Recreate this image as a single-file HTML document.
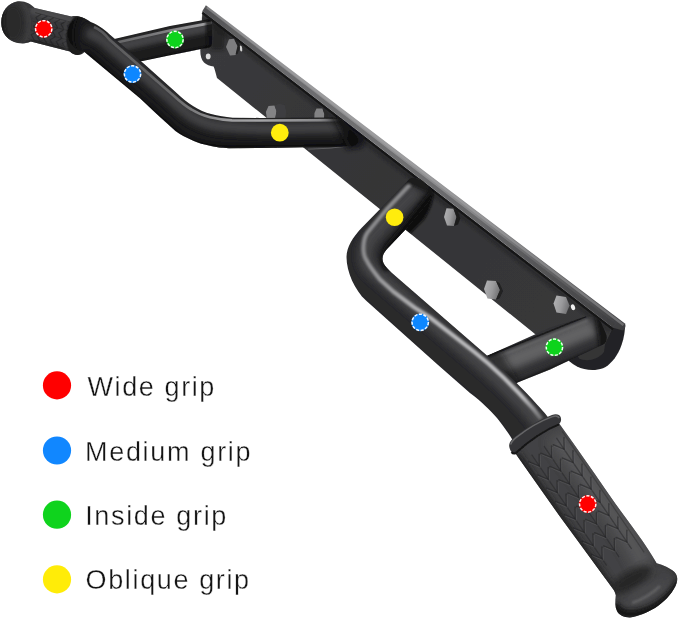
<!DOCTYPE html>
<html>
<head>
<meta charset="utf-8">
<title>Pull-up bar grips</title>
<style>
html,body{margin:0;padding:0;background:#fff;}
body{width:679px;height:620px;overflow:hidden;font-family:"Liberation Sans",sans-serif;}
svg{display:block;}
.lg{font-family:"Liberation Sans",sans-serif;font-size:27px;fill:#141414;letter-spacing:1.5px;stroke:#ffffff;stroke-width:0.35px;paint-order:fill stroke;}
</style>
</head>
<body>
<svg width="679" height="620" viewBox="0 0 679 620">
<defs>
  <filter id="b05" x="-20%" y="-20%" width="140%" height="140%"><feGaussianBlur stdDeviation="0.7"/></filter>
  <filter id="b1" x="-20%" y="-20%" width="140%" height="140%"><feGaussianBlur stdDeviation="1.2"/></filter>
  <filter id="b2" x="-20%" y="-20%" width="140%" height="140%"><feGaussianBlur stdDeviation="2.2"/></filter>
  <filter id="b3" x="-20%" y="-20%" width="140%" height="140%"><feGaussianBlur stdDeviation="3.5"/></filter>
  <filter id="b5" x="-30%" y="-30%" width="160%" height="160%"><feGaussianBlur stdDeviation="5.5"/></filter>
  <filter id="soft" x="-5%" y="-5%" width="110%" height="110%"><feGaussianBlur stdDeviation="0.5"/></filter>

  <linearGradient id="flangeG" gradientUnits="userSpaceOnUse" x1="205" y1="6" x2="624" y2="325">
    <stop offset="0" stop-color="#5a5a5c"/>
    <stop offset="0.07" stop-color="#747476"/>
    <stop offset="0.22" stop-color="#8c8c8e"/>
    <stop offset="0.45" stop-color="#929294"/>
    <stop offset="0.65" stop-color="#868688"/>
    <stop offset="0.82" stop-color="#646466"/>
    <stop offset="0.94" stop-color="#4e4e50"/>
    <stop offset="1" stop-color="#3e3e40"/>
  </linearGradient>
  <linearGradient id="hlL2" gradientUnits="userSpaceOnUse" x1="110" y1="0" x2="205" y2="0">
    <stop offset="0" stop-color="#626264"/>
    <stop offset="0.6" stop-color="#808082"/>
    <stop offset="1" stop-color="#a0a0a2"/>
  </linearGradient>
  <linearGradient id="plateG" gradientUnits="userSpaceOnUse" x1="205" y1="30" x2="600" y2="340">
    <stop offset="0" stop-color="#3a3a3c"/>
    <stop offset="0.45" stop-color="#343436"/>
    <stop offset="1" stop-color="#38383a"/>
  </linearGradient>
  <linearGradient id="hlL1" gradientUnits="userSpaceOnUse" x1="95" y1="0" x2="350" y2="0">
    <stop offset="0" stop-color="#58585a"/>
    <stop offset="0.3" stop-color="#686869"/>
    <stop offset="0.52" stop-color="#9c9c9e"/>
    <stop offset="0.65" stop-color="#a4a4a6"/>
    <stop offset="0.88" stop-color="#88888a"/>
    <stop offset="0.97" stop-color="#3a3a3c"/>
    <stop offset="1" stop-color="#242426"/>
  </linearGradient>
  <linearGradient id="hlR1" gradientUnits="userSpaceOnUse" x1="0" y1="185" x2="0" y2="420">
    <stop offset="0" stop-color="#8a8a8c"/>
    <stop offset="0.3" stop-color="#8c8c8e"/>
    <stop offset="0.45" stop-color="#a0a0a2"/>
    <stop offset="0.56" stop-color="#b6b6b8"/>
    <stop offset="0.9" stop-color="#bebec0"/>
    <stop offset="1" stop-color="#6a6a6c"/>
  </linearGradient>
  <linearGradient id="boltG" x1="0" y1="0" x2="1" y2="0.3">
    <stop offset="0" stop-color="#b4b4b6"/>
    <stop offset="0.6" stop-color="#9a9a9c"/>
    <stop offset="1" stop-color="#767678"/>
  </linearGradient>
  <linearGradient id="boltD" x1="0" y1="0" x2="1" y2="0.3">
    <stop offset="0" stop-color="#6e6e70"/>
    <stop offset="1" stop-color="#4c4c4e"/>
  </linearGradient>

  <!-- tube shapes -->
  <path id="L1" d="M 90.7,21.9 C 99,25 106,30.5 112,36.5 L 143.6,63.6 L 175.5,92 C 182,98 187,102.5 193.3,106.2 C 199,110 205,112.5 211,114.1 C 218,116 225,117.2 232.3,117.7 L 260,117.9 L 333,117.6 C 338.5,117.8 342,119.8 345,123 L 356.5,135.5 C 359.5,139 359,142.5 356,144.8 C 354,146.2 351,146.6 348,146.6 L 260,148 L 228.8,148.2 C 222,148 216,147.4 211,146.1 C 204,144.5 198,143 193.3,140.8 C 186,137.5 180,134.5 175.5,131 L 157.8,115 L 140,98.2 L 84.2,51.8 C 76,50.5 68,43 67.5,35 C 67.3,27 72,19.3 78,17.6 C 83,17.2 87,19.3 90.7,21.9 Z"/>
  <path id="L2" d="M 110,40 L 170,26 L 206.5,19.4 C 210,19 212,21 212,24 L 212,43 C 212,46 210,48 206,48.2 L 202,48.7 L 190,51.2 L 170,55.3 L 140,61.5 Z"/>
  <path id="R1" d="M 408.5,180 C 411,176.5 418,176.5 423,181 L 430,189 C 432.5,193 431.5,198 428,202.5 L 405.5,229.5 L 387,249 C 381,255.5 381,262 387,268 L 392,273 L 487.5,356 C 505,371 520,386 532,399 C 540,408 546,414 551,421 L 516,446 C 512,438 505,428 497,418 C 490,410 482,402 470,393 L 437.5,364.5 L 366,300.5 C 355,290.5 346.5,272 346.5,257 C 346.5,247 353,237 362,227.5 Z"/>
  <path id="R2" d="M 480,359 L 550,327.7 L 585.5,316.5 C 592,314.5 598,317.5 601,322.5 L 606,334 C 607.5,338 606.5,342.5 603,344.6 L 550,369.4 L 517.5,382.5 L 500,392 Z"/>
  <clipPath id="cPlate"><path d="M 202.4,11 L 613,327.7 L 604,346 L 545,342 L 535,334 L 217,78 L 213.6,66.5 L 204,62.5 L 200.3,50.6 Z"/></clipPath>
  <clipPath id="cL1"><use href="#L1"/></clipPath>
  <clipPath id="cL2"><use href="#L2"/></clipPath>
  <clipPath id="cR1"><use href="#R1"/></clipPath>
  <clipPath id="cR2"><use href="#R2"/></clipPath>

  <!-- grips -->
  <path id="GL" d="M 17.8,1.3 C 25,0.6 31,3.8 34.8,8.1 L 71.3,16.4 C 76,15.2 82,16.5 86,19.5 C 91,24 92.5,31 91.5,38 C 90.5,45 87,51 82,54 C 78,55.8 73,55 70,51.6 L 30.8,41.6 C 27,43.5 22.5,43.8 17.8,42.9 C 8,41 1.3,33 1.3,22.7 C 1.3,11.5 8,2.8 17.8,1.3 Z"/>
  <path id="GRb" d="M 512.8,449.7 L 558.9,423.1 C 578,450 599,480 615.6,504 C 630,524 646,544 656.6,563.3 C 663,565 670,568 674.4,572.1 C 678,576 678,581 675.5,586 C 671,595 664,602 655,608 C 646,613 638,616.5 630,617.4 C 624,617.5 619,615 617,611 C 615,607 615,601 615.8,595.2 C 615,592 614,590 612.3,588.1 L 559,515.3 Z"/>
  <path id="GRc" d="M 509.3,447 C 508.6,442.5 511.5,439.5 515.5,436.2 Q 534,421.5 552,415 C 556,413.6 559.8,414.3 560.8,417.5 C 561.6,420.3 560.8,422.5 559,424 Q 538,432.5 515.5,453 C 512.8,454 510.2,451.5 509.3,447 Z"/>
  <clipPath id="cGL"><use href="#GL"/></clipPath>
  <clipPath id="cGR"><use href="#GRb"/></clipPath>
</defs>

<rect width="679" height="620" fill="#ffffff"/>

<g filter="url(#soft)">
<!-- ================= back plate ================= -->
<g id="plate">
  <!-- right end bracket -->
  <path d="M 612,326 L 625,328 C 624.5,336 622.5,343 620,349 C 616,358 610,365 603,368.3 C 594,371.5 584,370 577,366.5 C 571,363.5 567,359.5 564,354 L 560,330 Z" fill="#232325"/>
  <path d="M 576,352 C 586,350 598,345 606,338 L 604,352 C 598,360 586,362 579,358.5 Z" fill="#404042" opacity="0.6"/>
  <!-- plate body -->
  <path d="M 202.4,11 L 613,327.7 L 604,346 L 545,342 L 535,334 L 217,78 C 215.5,72 214.5,68.5 213.6,66.5 C 210,66 206.5,65 204,62.5 C 201.5,60 200.3,56 200.3,50.6 Z" fill="url(#plateG)"/>
  <!-- thin dark line under flange -->
  <path d="M 202.4,12.6 L 613,329.2" stroke="#121213" stroke-width="2.6" fill="none" opacity="0.85"/>
  <path d="M 203,17 L 610,331" stroke="#1c1c1e" stroke-width="5" fill="none" opacity="0.4" filter="url(#b1)"/>
  <!-- soft shadows cast on plate by tubes -->
  <g clip-path="url(#cPlate)">
  <path d="M 212,22 L 226,24 L 224,50 L 210,50 Z" fill="#141415" opacity="0.55" filter="url(#b2)"/>
  <path d="M 418,180 C 428,184 434,190 433.5,196 C 432,206 428,213 424.5,219 L 410,234 L 398,224 Z" fill="#0c0c0d" opacity="0.92" filter="url(#b1)"/>
  <path d="M 336,114 L 352,120 L 366,138 L 362,148 L 346,150 Z" fill="#111112" opacity="0.7" filter="url(#b2)"/>
  <path d="M 308,149.2 L 330,148.2 L 352,145.5" stroke="#77777a" stroke-width="1" fill="none" opacity="0.6" filter="url(#b05)"/>
  </g>
  <!-- flange (light strip) -->
  <path d="M 205.9,5.3 L 624.6,323.3 C 625.6,324.3 625.8,326 625,328 L 623,330.6 L 613,327.7 L 202.4,11.2 Z" fill="url(#flangeG)"/>
  <path d="M 207,7.4 L 623.5,325" stroke="#b0b0b2" stroke-width="2.4" fill="none" opacity="0.4" filter="url(#b05)"/>
  <path d="M 203.6,9.2 L 613.8,325" stroke="#3a3a3c" stroke-width="4" fill="none" opacity="0.38" filter="url(#b05)"/>
  <!-- tab hole / slots -->
  <ellipse cx="208.2" cy="56.4" rx="2.4" ry="2.8" fill="#dcdcdc"/>
  <ellipse cx="241" cy="48.5" rx="1.2" ry="3" fill="#d4d4d4" transform="rotate(-8 241 48.5)"/>
  <ellipse cx="573" cy="307.3" rx="2" ry="3" fill="#eeeeee" transform="rotate(-20 573 307.3)"/>
</g>

<!-- ================= bolts ================= -->
<g id="bolts">
  <path d="M 229,39.3 L 234.3,38.8 L 237.8,46 L 235.8,55 L 230,55.5 L 226,47 Z" fill="#7e7e80"/>
  <path d="M 234,39 L 238,41 L 240,48 L 237.5,54 L 235.5,54.5 L 237.5,46 Z" fill="#232324"/>
  <path d="M 268.5,106 L 274.5,105.6 L 276.5,111 L 275.2,119 L 267,119 L 265.9,112 Z" fill="#848486"/>
  <path d="M 274.5,105.6 L 279,104 L 284.5,105 L 286,111 L 285.5,119 L 275.2,119 L 276.5,111 Z" fill="#3e3e40"/>
  <path d="M 316.5,108.6 L 322.5,108.4 L 324.4,114 L 324,119 L 314.3,119 L 314.5,113 Z" fill="#828284"/><path d="M 322.5,108.4 L 326,110 L 329,119 L 324,119 L 324.4,114 Z" fill="#29292a"/>
  <path d="M 446.5,208.3 L 453.5,208.8 L 456.5,217 L 454,226 L 447,225.5 L 444,217 Z" fill="url(#boltG)"/>
  <path d="M 453.5,208.8 L 458,211 L 460.5,218.5 L 458,224.5 L 454,226 L 456.5,217 Z" fill="#1e1e1f"/>
  <path d="M 487,280.5 L 496,281 L 500,290 L 496,299.5 L 487.5,298.5 L 484,289 Z" fill="url(#boltG)"/>
  <path d="M 496,281 L 499.5,283 L 503,291 L 499.5,298.5 L 496,299.5 L 500,290 Z" fill="#202021"/>
  <path d="M 556.5,295.5 L 566,297 L 569.5,305.5 L 566,314 L 556.5,312.5 L 553.5,303.5 Z" fill="url(#boltG)"/>
</g>

<g id="grip-left">
  <use href="#GL" fill="#38383a"/>
  <g clip-path="url(#cGL)">
    <path d="M 30,10 L 72,20" stroke="#4e4e50" stroke-width="7" fill="none" filter="url(#b2)"/>
    <path d="M 26,43 L 72,55" stroke="#1d1d1e" stroke-width="9" fill="none" filter="url(#b2)"/>
    <path d="M31.2,34.8L34.0,39.7 M31.2,34.8L36.1,32.0 M33.5,26.1L36.4,31.0 M33.5,26.1L38.4,23.3 M35.9,17.4L38.7,22.3 M35.9,17.4L40.8,14.6 M37.5,36.5L40.3,41.4 M37.5,36.5L42.4,33.7 M39.8,27.8L42.6,32.7 M39.8,27.8L44.7,25.0 M42.1,19.1L45.0,24.0 M42.1,19.1L47.0,16.3 M43.8,38.2L46.6,43.1 M43.8,38.2L48.7,35.4 M46.1,29.5L48.9,34.4 M46.1,29.5L51.0,26.7 M48.4,20.8L51.2,25.7 M48.4,20.8L53.3,18.0 M50.0,39.9L52.9,44.8 M50.0,39.9L54.9,37.0 M52.4,31.2L55.2,36.1 M52.4,31.2L57.3,28.3 M54.7,22.5L57.5,27.4 M54.7,22.5L59.6,19.7 M56.3,41.6L59.1,46.5 M56.3,41.6L61.2,38.7 M58.6,32.9L61.5,37.8 M58.6,32.9L63.5,30.0 M61.0,24.2L63.8,29.1 M61.0,24.2L65.9,21.3 M62.6,43.2L65.4,48.1 M62.6,43.2L67.5,40.4 M64.9,34.5L67.7,39.4 M64.9,34.5L69.8,31.7 M67.2,25.8L70.1,30.7 M67.2,25.8L72.2,23.0" stroke="#1c1c1d" stroke-width="1.1" fill="none" opacity="0.5" stroke-linecap="round"/><path d="M28.1,38.6L66.7,49.0 M30.4,30.0L69.1,40.3 M32.8,21.3L71.4,31.6 M35.1,12.6L73.7,22.9" stroke="#1e1e1f" stroke-width="1" fill="none" opacity="0.4"/>
    <ellipse cx="13" cy="23" rx="13" ry="21" fill="#2b2b2c" filter="url(#b3)"/>
    <path d="M 3,10 C -1,20 1,34 8,42" stroke="#141415" stroke-width="5" fill="none" filter="url(#b2)"/>
    <path d="M 22,3 C 29,9 31,30 26,43" stroke="#48484a" stroke-width="3" fill="none" filter="url(#b2)" opacity="0.7"/>
    <ellipse cx="78" cy="35.3" rx="11.5" ry="20" transform="rotate(7 78 35.3)" fill="#1c1c1d" filter="url(#b05)"/>
    <path d="M 68,16 C 64,26 63.5,42 66.5,51" stroke="#4a4a4c" stroke-width="1.6" fill="none" filter="url(#b1)" opacity="0.7"/>
  </g>
</g>
<!-- ================= left handle ================= -->
<g id="left-handle">
  <use href="#L2" fill="#1d1d1e"/>
  <g clip-path="url(#cL2)">
    <path d="M 108,49 L 170,35 L 214,26" stroke="#424244" stroke-width="10" fill="none" filter="url(#b2)"/>
    <path d="M 108,44.6 L 170,30.6 L 214,22.4" stroke="url(#hlL2)" stroke-width="2.6" fill="none" filter="url(#b05)"/>
    <path d="M 120,70.5 L 170,59 L 214,50" stroke="#0d0d0e" stroke-width="8" fill="none" filter="url(#b2)"/>
    <path d="M 205,14 L 214,14 L 214,52 L 207,52 Z" fill="#0e0e0f" opacity="0.7" filter="url(#b1)"/>
  </g>
  <use href="#L1" fill="#1a1a1b"/>
  <g clip-path="url(#cL1)">
    <path d="M 86,32 C 98,35 104,40 110,46 L 168,96 C 178,105 185,112 193,117 C 202,122 211,125 220,126 C 240,128 255,128.5 270,128.5 L 350,127" stroke="#424244" stroke-width="12" fill="none" filter="url(#b3)"/>
    <path d="M 94,27 C 101,30 105,34 109.4,39.5 L 172.9,95 C 180,101.5 185,106 191.5,109.5 C 197,113 203,115.5 210,117.2 C 217,118.8 224,120 232,120.4 L 260,120.5 L 346,120.1" stroke="url(#hlL1)" stroke-width="2.6" fill="none" filter="url(#b05)"/>
    <path d="M 82,57 L 156,121 L 174,137 C 186,147 200,151.5 228,153 L 345,151.5" stroke="#070708" stroke-width="13" fill="none" filter="url(#b2)"/>
    <path d="M 330,112 L 362,112 L 362,152 L 350,152 Z" fill="#0e0e0f" opacity="0.85" filter="url(#b3)"/>
    <path d="M 66,14 L 80,14 C 72,26 72,44 80,56 L 64,56 Z" fill="#0c0c0d" opacity="0.8" filter="url(#b2)"/>
  </g>
</g>

<!-- ================= right handle ================= -->
<g id="right-handle">
  <use href="#R2" fill="#303032"/>
  <g clip-path="url(#cR2)">
    <path d="M 478,374 L 594,327" stroke="#626264" stroke-width="18" fill="none" filter="url(#b3)"/>
    <path d="M 478,365 L 588,320.5" stroke="#626264" stroke-width="3" fill="none" filter="url(#b1)"/>
    <path d="M 478,360 L 586,316.5" stroke="#1a1a1b" stroke-width="1.6" fill="none" filter="url(#b05)"/>
    <path d="M 500,396 L 612,348" stroke="#0d0d0e" stroke-width="11" fill="none" filter="url(#b2)"/>
    <path d="M 594,310 L 612,318 L 612,350 L 600,350 Z" fill="#0e0e0f" opacity="0.75" filter="url(#b2)"/>
    <path d="M 476,350 L 500,350 L 530,400 L 500,400 Z" fill="#0e0e0f" opacity="0.55" filter="url(#b3)"/>
  </g>
  <use href="#R1" fill="#29292b"/>
  <g clip-path="url(#cR1)">
    <path d="M 417,189 L 393,214 L 372,237 C 364,247 363,261 371,270 L 412,305 L 478,361 C 496,376 511,391 523,404 C 531,413 537,420 543,428" stroke="#444446" stroke-width="15" fill="none" filter="url(#b3)"/>
    <path d="M 410.5,184 L 386.5,209.5 L 367.5,232.5 C 362.5,240 362,254 366.6,260.3 C 369,266 374,272 380,279.5 L 393.2,291.5 L 414.5,307.5 L 430,317.5 L 473.9,351.6 C 495,368 515,388 533.9,409.7 L 541,419" stroke="url(#hlR1)" stroke-width="4.2" fill="none" filter="url(#b1)" stroke-linejoin="round"/>
    <path d="M 348,299 L 432,376 C 466,402 491,424 508,454" stroke="#0b0b0c" stroke-width="11" fill="none" filter="url(#b3)"/>
    <path d="M 434,194 L 408,226 L 391,246 C 385,254 385,262 389,268" stroke="#0a0a0b" stroke-width="10" fill="none" filter="url(#b2)"/>
    <path d="M 402,172 L 436,186 L 433,194 L 405,183 Z" fill="#0e0e0f" opacity="0.5" filter="url(#b1)"/>
  </g>
</g>

<!-- ================= grips ================= -->
<g id="grip-right">
  <use href="#GRb" fill="#424244"/>
  <g clip-path="url(#cGR)">
    <path d="M 556,436 C 578,466 600,496 616,518 C 628,535 638,552 646,568" stroke="#545456" stroke-width="20" fill="none" filter="url(#b5)"/>
    <path d="M 512,456 L 558,522 L 610,594" stroke="#1b1b1c" stroke-width="15" fill="none" filter="url(#b3)"/>
    <path d="M539.4,466.3L528.4,461.6 M539.4,466.3L539.2,454.3 M551.8,457.8L540.8,453.2 M551.8,457.8L551.6,445.9 M564.2,449.4L553.3,444.8 M564.2,449.4L564.0,437.5 M548.4,479.5L537.4,474.9 M548.4,479.5L548.2,467.6 M560.8,471.1L549.8,466.5 M560.8,471.1L560.6,459.2 M573.2,462.7L562.2,458.0 M573.2,462.7L573.0,450.7 M557.4,492.8L546.4,488.1 M557.4,492.8L557.1,480.8 M569.8,484.3L558.8,479.7 M569.8,484.3L569.6,472.4 M582.2,475.9L571.2,471.3 M582.2,475.9L582.0,464.0 M566.3,506.0L555.3,501.4 M566.3,506.0L566.1,494.1 M578.8,497.6L567.8,493.0 M578.8,497.6L578.5,485.7 M591.2,489.2L580.2,484.5 M591.2,489.2L590.9,477.2 M575.3,519.2L564.3,514.6 M575.3,519.2L575.1,507.3 M587.7,510.8L576.7,506.2 M587.7,510.8L587.5,498.9 M600.2,502.4L589.2,497.8 M600.2,502.4L599.9,490.5 M584.3,532.5L573.3,527.9 M584.3,532.5L584.1,520.6 M596.7,524.1L585.7,519.4 M596.7,524.1L596.5,512.2 M609.1,515.7L598.1,511.0 M609.1,515.7L608.9,503.7 M593.3,545.7L582.3,541.1 M593.3,545.7L593.0,533.8 M605.7,537.3L594.7,532.7 M605.7,537.3L605.5,525.4 M618.1,528.9L607.1,524.3 M618.1,528.9L617.9,517.0 M602.2,559.0L591.3,554.4 M602.2,559.0L602.0,547.1 M614.7,550.6L603.7,545.9 M614.7,550.6L614.4,538.6 M627.1,542.2L616.1,537.5 M627.1,542.2L626.9,530.2" stroke="#232324" stroke-width="1.5" fill="none" opacity="0.55" stroke-linecap="round"/><path d="M540.4,467.7L529.4,463.1 M540.4,467.7L540.2,455.8 M552.8,459.3L541.8,454.7 M552.8,459.3L552.6,447.4 M565.3,450.9L554.3,446.3 M565.3,450.9L565.0,439.0 M549.4,481.0L538.4,476.4 M549.4,481.0L549.2,469.1 M561.8,472.6L550.8,467.9 M561.8,472.6L561.6,460.7 M574.2,464.2L563.2,459.5 M574.2,464.2L574.0,452.2 M558.4,494.2L547.4,489.6 M558.4,494.2L558.1,482.3 M570.8,485.8L559.8,481.2 M570.8,485.8L570.6,473.9 M583.2,477.4L572.2,472.8 M583.2,477.4L583.0,465.5 M567.3,507.5L556.4,502.9 M567.3,507.5L567.1,495.6 M579.8,499.1L568.8,494.4 M579.8,499.1L579.5,487.1 M592.2,490.7L581.2,486.0 M592.2,490.7L592.0,478.7 M576.3,520.7L565.3,516.1 M576.3,520.7L576.1,508.8 M588.7,512.3L577.8,507.7 M588.7,512.3L588.5,500.4 M601.2,503.9L590.2,499.3 M601.2,503.9L600.9,492.0 M585.3,534.0L574.3,529.4 M585.3,534.0L585.1,522.1 M597.7,525.6L586.7,520.9 M597.7,525.6L597.5,513.6 M610.1,517.2L599.1,512.5 M610.1,517.2L609.9,505.2 M594.3,547.2L583.3,542.6 M594.3,547.2L594.0,535.3 M606.7,538.8L595.7,534.2 M606.7,538.8L606.5,526.9 M619.1,530.4L608.1,525.8 M619.1,530.4L618.9,518.5 M603.3,560.5L592.3,555.8 M603.3,560.5L603.0,548.6 M615.7,552.1L604.7,547.4 M615.7,552.1L615.4,540.1 M628.1,543.7L617.1,539.0 M628.1,543.7L627.9,531.7" stroke="#6a6a6c" stroke-width="1.0" fill="none" opacity="0.4" stroke-linecap="round"/><path d="M531.6,454.7L606.7,565.6 M544.0,446.2L619.1,557.2 M556.4,437.8L631.6,548.8" stroke="#242425" stroke-width="1.3" fill="none" opacity="0.5"/><path d="M523.4,457.8L605.3,578.7 M562.3,431.4L644.2,552.3" stroke="#2a2a2b" stroke-width="1.2" fill="none" opacity="0.45"/>
    <ellipse cx="631" cy="580" rx="24" ry="9" transform="rotate(-30 631 580)" fill="#252526" filter="url(#b3)"/>
    <ellipse cx="648" cy="593" rx="24" ry="8" transform="rotate(-28 648 593)" fill="#464648" filter="url(#b3)"/>
    <path d="M 632,603 C 641,600 652,594 660,586" stroke="#626264" stroke-width="2.6" fill="none" filter="url(#b1)"/>
    <path d="M 614,604 C 622,625 664,612 680,582" stroke="#131314" stroke-width="9" fill="none" filter="url(#b2)"/>
    <path d="M 655,560 C 668,562 680,570 680,582" stroke="#2a2a2b" stroke-width="5" fill="none" filter="url(#b2)"/>
  </g>
  <use href="#GRc" fill="#363638"/>
  <path d="M 510.8,444.5 C 511.2,442 513,440 516,437.6 Q 534.5,423 552.5,416.6 C 555.5,415.6 558,416 559.2,418" stroke="#666668" stroke-width="1.5" fill="none" filter="url(#b05)"/>
  <path d="M 511.5,452 C 513,453.8 514.5,453.8 516,452.8 Q 538,432.8 559,424.4" stroke="#151516" stroke-width="2" fill="none" filter="url(#b05)"/>
</g>

<!-- ================= markers on product ================= -->
<g id="markers">
  <circle cx="43.7" cy="28.8" r="8.9" fill="#ff0000"/><circle cx="43.7" cy="28.8" r="8.15" fill="none" stroke="#ffffff" stroke-width="1.5" stroke-dasharray="3.1 1.5" opacity="0.95"/>
  <circle cx="132.5" cy="74" r="8.9" fill="#1187ff"/><circle cx="132.5" cy="74" r="8.15" fill="none" stroke="#ffffff" stroke-width="1.5" stroke-dasharray="3.1 1.5" opacity="0.95"/>
  <circle cx="175" cy="39.5" r="8.9" fill="#0fd31d"/><circle cx="175" cy="39.5" r="8.15" fill="none" stroke="#ffffff" stroke-width="1.5" stroke-dasharray="3.1 1.5" opacity="0.95"/>
  <circle cx="279.8" cy="132.7" r="8.9" fill="#ffec08"/>
  <circle cx="394.6" cy="217.2" r="8.8" fill="#ffec08"/>
  <circle cx="420.2" cy="322.3" r="8.9" fill="#1187ff"/><circle cx="420.2" cy="322.3" r="8.15" fill="none" stroke="#ffffff" stroke-width="1.5" stroke-dasharray="3.1 1.5" opacity="0.95"/>
  <circle cx="554.4" cy="347.2" r="8.9" fill="#0fd31d"/><circle cx="554.4" cy="347.2" r="8.15" fill="none" stroke="#ffffff" stroke-width="1.5" stroke-dasharray="3.1 1.5" opacity="0.95"/>
  <circle cx="587.7" cy="504" r="8.9" fill="#ff0000"/><circle cx="587.7" cy="504" r="8.15" fill="none" stroke="#ffffff" stroke-width="1.5" stroke-dasharray="3.1 1.5" opacity="0.95"/>
</g>
</g>

<!-- ================= legend ================= -->
<g id="legend">
  <circle cx="57" cy="385.4" r="14.1" fill="#ff0000"/>
  <circle cx="57" cy="450.5" r="14.1" fill="#1187ff"/>
  <circle cx="57" cy="514.7" r="14.1" fill="#0fd31d"/>
  <circle cx="57" cy="579.4" r="14.1" fill="#ffec08"/>
  <text class="lg" x="87.5" y="396.1" style="letter-spacing:1.6px">Wide grip</text>
  <text class="lg" x="85" y="460.7" style="letter-spacing:1.7px">Medium grip</text>
  <text class="lg" x="85.2" y="524.6" style="letter-spacing:1.66px">Inside grip</text>
  <text class="lg" x="85.6" y="589" style="letter-spacing:1.63px">Oblique grip</text>
</g>
</svg>
</body>
</html>
